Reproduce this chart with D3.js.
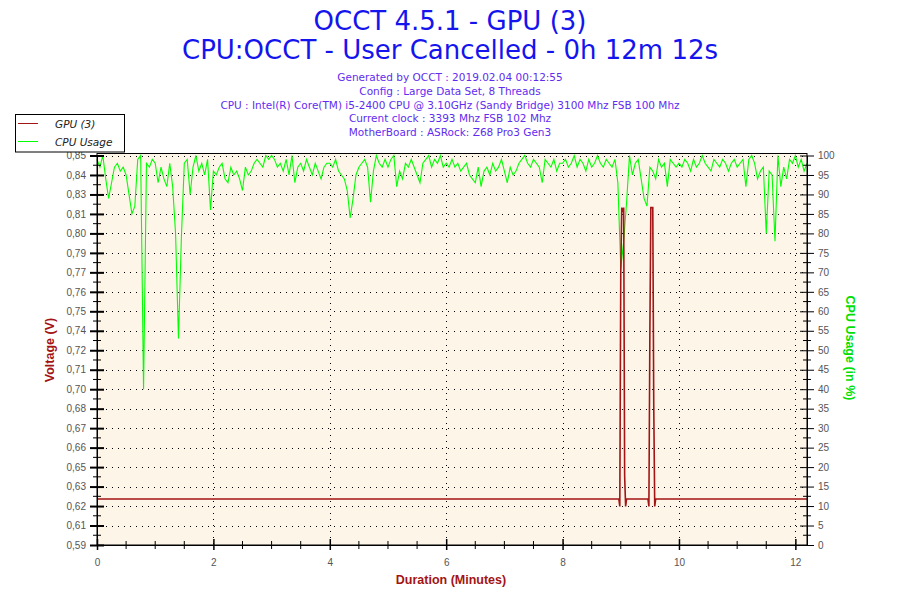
<!DOCTYPE html>
<html>
<head>
<meta charset="utf-8">
<script src="https://cdn.jsdelivr.net/npm/d3@7"></script>
<style>
  html, body { margin: 0; padding: 0; background: #ffffff; }
  svg { display: block; }
</style>
</head>
<body>
<svg id="chart" width="900" height="600"></svg>
<script>
// ---------------- DATA ----------------
const titleLines = ["OCCT 4.5.1 - GPU (3)", "CPU:OCCT - User Cancelled - 0h 12m 12s"];
const infoLines = [
  "Generated by OCCT : 2019.02.04 00:12:55",
  "Config : Large Data Set, 8 Threads",
  "CPU : Intel(R) Core(TM) i5-2400 CPU @ 3.10GHz (Sandy Bridge) 3100 Mhz FSB 100 Mhz",
  "Current clock : 3393 Mhz FSB 102 Mhz",
  "MotherBoard : ASRock: Z68 Pro3 Gen3"
];
const legendNames = ["GPU (3)", "CPU Usage"];

// Voltage axis: tick labels as printed (21 evenly spaced ticks)
const voltageMin = 0.5945, voltageMax = 0.8525;
const voltageTickLabels = ["0,59","0,61","0,62","0,63","0,65","0,66","0,67","0,68","0,70","0,71",
  "0,72","0,74","0,75","0,76","0,77","0,79","0,80","0,81","0,83","0,84","0,85"];
const cpuTicks = [0,5,10,15,20,25,30,35,40,45,50,55,60,65,70,75,80,85,90,95,100];
const minuteTicks = [0,2,4,6,8,10,12];
const durationMinutes = 12.2;

// GPU (3) voltage, samples (seconds, volts)
const gpuSeconds = [0, 538, 539, 540, 541, 542, 543, 544, 545, 546, 568, 569, 570, 571, 572, 573, 574, 575, 576, 732];
const gpuVolts   = [0.625, 0.625, 0.620, 0.775, 0.818, 0.815, 0.818, 0.640, 0.620, 0.625,
                    0.625, 0.620, 0.735, 0.818, 0.818, 0.818, 0.687, 0.620, 0.625, 0.625];

// CPU usage (%), one sample every 3 seconds, one row per minute
const cpuSampleSeconds = 3;
const cpuUsage = [
  99, 97, 100, 94, 89, 93, 97, 98, 96, 97, 95, 90, 85, 87, 99, 100, 40, 98, 97, 99,
  98, 93, 97, 94, 92, 98, 92, 80, 53, 79, 98, 99, 90, 97, 100, 96, 98, 95, 99, 86,
  96, 95, 97, 98, 94, 93, 97, 95, 96, 94, 91, 97, 95, 96, 98, 99, 98, 97, 100, 99,
  100, 99, 97, 98, 96, 99, 95, 100, 93, 97, 98, 96, 99, 97, 95, 98, 96, 94, 97, 98,
  98, 97, 99, 96, 95, 94, 91, 84, 89, 95, 97, 98, 99, 97, 88, 96, 100, 98, 97, 99,
  97, 99, 100, 92, 96, 94, 98, 97, 99, 97, 95, 93, 98, 99, 100, 97, 99, 98, 100, 97,
  98, 97, 99, 97, 98, 96, 97, 98, 95, 94, 93, 97, 92, 96, 97, 95, 98, 96, 97, 99,
  96, 93, 97, 95, 96, 98, 99, 100, 98, 97, 99, 98, 97, 93, 99, 98, 97, 99, 96, 98,
  98, 99, 97, 98, 100, 97, 99, 98, 96, 99, 97, 98, 100, 98, 97, 99, 98, 97, 99, 93,
  71, 78, 88, 100, 95, 98, 99, 94, 89, 87, 97, 96, 94, 99, 97, 98, 92, 99, 98, 97,
  98, 97, 99, 98, 96, 99, 97, 98, 100, 98, 97, 96, 99, 98, 97, 99, 98, 96, 98, 99,
  97, 98, 99, 92, 99, 100, 98, 94, 96, 97, 80, 96, 95, 78, 100, 92, 97, 94, 99, 98,
  100, 97, 99, 96, 98
];

// ---------------- DRAW ----------------
const svg = d3.select("#chart");
const plot = { left: 97, right: 807, top: 153, bottom: 545, gridTop: 155.5 };
const RED = "#a31414", GREEN = "#00ff00", BLUE = "#1414ee", INFO = "#5f2cf0";

const x = d3.scaleLinear().domain([0, durationMinutes]).range([plot.left, plot.right]);
const yV = d3.scaleLinear().domain([voltageMin, voltageMax]).range([plot.bottom, plot.gridTop]);
const yC = d3.scaleLinear().domain([0, 100]).range([plot.bottom, plot.gridTop]);

// titles
svg.selectAll("text.title").data(titleLines).enter().append("text")
  .attr("class", "title")
  .attr("x", 450).attr("y", (d, i) => 30 + i * 28.5)
  .attr("text-anchor", "middle")
  .attr("font-family", "DejaVu Sans").attr("font-size", 26)
  .attr("fill", BLUE).text(d => d);

svg.selectAll("text.info").data(infoLines).enter().append("text")
  .attr("class", "info")
  .attr("x", 450).attr("y", (d, i) => 81 + i * 13.8)
  .attr("text-anchor", "middle")
  .attr("font-family", "DejaVu Sans").attr("font-size", 10.5)
  .attr("fill", INFO).text(d => d);

// plot background
svg.append("rect")
  .attr("x", plot.left).attr("y", plot.top)
  .attr("width", plot.right - plot.left).attr("height", plot.bottom - plot.top)
  .attr("fill", "#fdf6e8");

// grid
const voltTickVals = voltageTickLabels.map((d, i) => voltageMin + i * (voltageMax - voltageMin) / (voltageTickLabels.length - 1));
const grid = svg.append("g").attr("stroke", "#000").attr("stroke-width", 1).attr("stroke-dasharray", "1,5");
grid.selectAll("line.h").data(cpuTicks.slice(1)).enter().append("line")
  .attr("x1", plot.left + 3).attr("x2", plot.right)
  .attr("y1", d => Math.round(yC(d)) + 0.5).attr("y2", d => Math.round(yC(d)) + 0.5);
grid.selectAll("line.v").data(minuteTicks.slice(1)).enter().append("line")
  .attr("y1", plot.top).attr("y2", plot.bottom)
  .attr("x1", d => Math.round(x(d)) + 0.5).attr("x2", d => Math.round(x(d)) + 0.5);

// series
const gpuData = gpuSeconds.map((s, i) => ({ t: s / 60, v: gpuVolts[i] }));
const cpuData = cpuUsage.map((v, i) => ({ t: i * cpuSampleSeconds / 60, v }));

svg.append("path").datum(cpuData)
  .attr("fill", "none").attr("stroke", GREEN).attr("stroke-width", 1.1)
  .attr("d", d3.line().x(d => x(d.t)).y(d => yC(d.v)));

svg.append("path").datum(gpuData)
  .attr("fill", "none").attr("stroke", RED).attr("stroke-width", 1.6)
  .attr("d", d3.line().x(d => x(d.t)).y(d => yV(d.v)));

// axes
const tickFont = g => g.selectAll("text").attr("font-family", "Liberation Sans").attr("font-size", 10).attr("fill", "#555");

const leftAxis = svg.append("g").attr("transform", `translate(${plot.left},0)`)
  .call(d3.axisLeft(yV).tickValues(voltTickVals).tickFormat((d, i) => voltageTickLabels[i]).tickSizeInner(7).tickSizeOuter(0).tickPadding(4));
leftAxis.call(tickFont);
leftAxis.selectAll(".tick line").attr("x2", -7).attr("x1", 7).attr("stroke-width", 2);

const rightAxis = svg.append("g").attr("transform", `translate(${plot.right},0)`)
  .call(d3.axisRight(yC).tickValues(cpuTicks).tickSizeInner(7).tickSizeOuter(0).tickPadding(4));
rightAxis.call(tickFont);
rightAxis.selectAll(".tick line").attr("x1", -7).attr("x2", 7);

const bottomAxis = svg.append("g").attr("transform", `translate(0,${plot.bottom})`)
  .call(d3.axisBottom(x).tickValues(minuteTicks).tickSizeInner(5).tickSizeOuter(0).tickPadding(9));
bottomAxis.call(tickFont);
bottomAxis.selectAll(".tick line").attr("y1", -6).attr("y2", 5).attr("stroke-width", 1.5);

// minor ticks
const minorV = d3.range(voltTickVals.length - 1).map(i => (voltTickVals[i] + voltTickVals[i + 1]) / 2);
svg.append("g").selectAll("line").data(minorV).enter().append("line")
  .attr("x1", plot.left - 4).attr("x2", plot.left + 4)
  .attr("y1", d => yV(d)).attr("y2", d => yV(d)).attr("stroke", "#000");
const minorC = d3.range(cpuTicks.length - 1).map(i => (cpuTicks[i] + cpuTicks[i + 1]) / 2);
svg.append("g").selectAll("line").data(minorC).enter().append("line")
  .attr("x1", plot.right - 4).attr("x2", plot.right + 4)
  .attr("y1", d => yC(d)).attr("y2", d => yC(d)).attr("stroke", "#000");
const minorX = d3.range(0.5, durationMinutes, 0.5).filter(m => Math.abs(m - Math.round(m / 2) * 2) > 0.01);
svg.append("g").selectAll("line").data(minorX).enter().append("line")
  .attr("y1", plot.bottom - 4).attr("y2", plot.bottom + 4)
  .attr("x1", d => x(d)).attr("x2", d => x(d)).attr("stroke", "#000");

// frame lines
svg.append("line").attr("x1", plot.left).attr("x2", plot.right).attr("y1", plot.top + 0.5).attr("y2", plot.top + 0.5).attr("stroke", "#000");
svg.append("line").attr("x1", plot.left).attr("x2", plot.right).attr("y1", plot.bottom).attr("y2", plot.bottom).attr("stroke", "#000");
svg.append("line").attr("x1", plot.left).attr("x2", plot.left).attr("y1", plot.top).attr("y2", plot.bottom).attr("stroke", "#000");
svg.append("line").attr("x1", plot.right).attr("x2", plot.right).attr("y1", plot.top).attr("y2", plot.bottom).attr("stroke", "#000");

// axis titles
svg.append("text").attr("transform", "translate(54,350) rotate(-90)")
  .attr("text-anchor", "middle").attr("font-family", "Liberation Sans").attr("font-weight", "bold")
  .attr("font-size", 12.5).attr("fill", RED).text("Voltage (V)");
svg.append("text").attr("transform", "translate(846,348) rotate(90)")
  .attr("text-anchor", "middle").attr("font-family", "Liberation Sans").attr("font-weight", "bold")
  .attr("font-size", 12.5).attr("fill", "#00e000").text("CPU Usage (in %)");
svg.append("text").attr("x", 451).attr("y", 584)
  .attr("text-anchor", "middle").attr("font-family", "Liberation Sans").attr("font-weight", "bold")
  .attr("font-size", 12.5).attr("fill", RED).text("Duration (Minutes)");

// legend
const lg = svg.append("g");
lg.append("rect").attr("x", 15.5).attr("y", 114.5).attr("width", 109).attr("height", 37.5)
  .attr("fill", "#fff").attr("stroke", "#000");
const legColors = [RED, GREEN];
legendNames.forEach((n, i) => {
  lg.append("line").attr("x1", 18).attr("x2", 38).attr("y1", 123.5 + i * 18).attr("y2", 123.5 + i * 18)
    .attr("stroke", legColors[i]).attr("stroke-width", 1);
  lg.append("text").attr("x", 55).attr("y", 127.5 + i * 18)
    .attr("font-family", "DejaVu Sans").attr("font-style", "italic").attr("font-size", 10.5)
    .attr("fill", "#222").text(n);
});
</script>
</body>
</html>
